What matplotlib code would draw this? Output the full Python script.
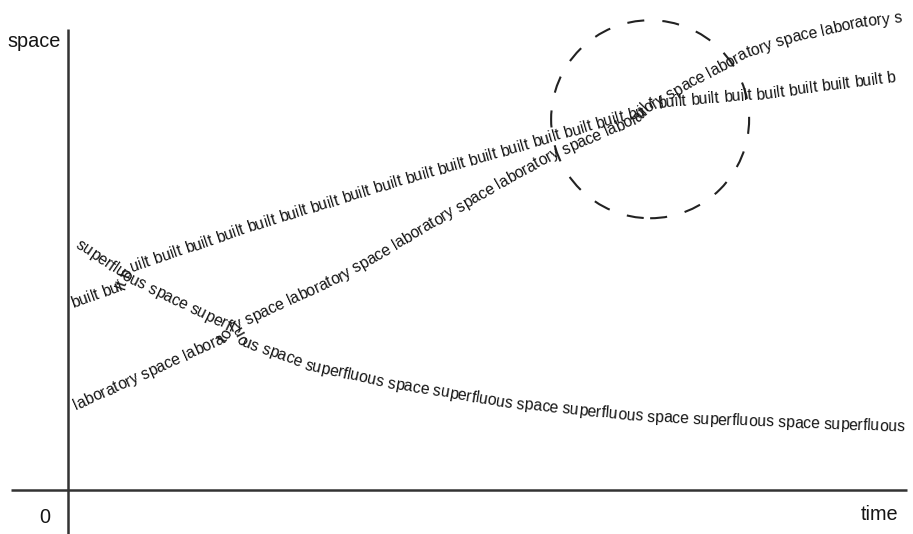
import numpy as np
import matplotlib
matplotlib.use('Agg')
import matplotlib.pyplot as plt
from matplotlib import font_manager
from matplotlib.ft2font import FT2Font
from matplotlib.patches import Ellipse

# data: time (0-100) vs space (0-100)
built_t = [0.6, 6.8, 7.5, 23.2, 38.7, 52.3, 65.7, 68.3, 69.3, 82.7, 98.3]
built_s = [39.6, 43.7, 47.4, 57.0, 65.7, 72.8, 80.0, 81.1, 83.0, 85.0, 88.7]

lab_t = [1.0, 18.9, 19.5, 33.0, 45.1, 52.6, 58.2, 68.1, 69.3, 73.7, 80.8, 86.0, 94.6, 98.9]
lab_s = [17.4, 32.2, 34.3, 45.7, 58.7, 66.7, 72.2, 80.0, 82.2, 87.0, 93.9, 97.2, 100.7, 101.6]

sup_t = [0.8, 6.8, 19.6, 20.4, 28.5, 37.5, 52.6, 69.3, 100.3]
sup_s = [52.8, 45.4, 34.1, 31.5, 26.1, 22.4, 17.8, 14.8, 12.6]

words = ['built ', 'laboratory space ', 'superfluous space ']

circle_center = (69.3, 80.6)
circle_radius_px = 99

ink = '#151515'
fsize = 11.3

fig = plt.figure(figsize=(9.13, 5.34), dpi=100)
ax = fig.add_axes([0, 0, 1, 1])
ax.set_xlim(-68 / 8.4, (913 - 68) / 8.4)
ax.set_ylim((490 - 534) / 4.6, 490 / 4.6)
ax.axis('off')

# axes lines
ax.plot([-6.8, 99.9], [0, 0], color='#333333', lw=1.8, solid_capstyle='butt')
ax.plot([0, 0], [100.2, -9.6], color='#333333', lw=1.8, solid_capstyle='butt')
ax.text(-0.8, 96.3, 'space', ha='right', va='baseline', fontsize=14.3,
        family='Liberation Sans', color=ink)
ax.text(-2.8, -7.2, '0', ha='center', va='baseline', fontsize=14.3,
        family='Liberation Sans', color=ink)
ax.text(98.9, -6.5, 'time', ha='right', va='baseline', fontsize=14.3,
        family='Liberation Sans', color=ink)

# glyph advances for text along a path
fp = font_manager.FontProperties(family='Liberation Sans')
font = FT2Font(font_manager.findfont(fp))
font.set_size(fsize, 72)
px_per_pt = fig.dpi / 72.0


def advance(c):
    g = font.load_char(ord(c))
    return g.linearHoriAdvance / 65536.0 * px_per_pt


def text_on_path(ts, ss, phrase):
    pts = ax.transData.transform(np.column_stack([ts, ss]))
    seg = np.diff(pts, axis=0)
    seglen = np.hypot(seg[:, 0], seg[:, 1])
    cum = np.concatenate([[0], np.cumsum(seglen)])
    total = cum[-1]
    inv = ax.transData.inverted()
    d = 0.0
    i = 0
    while True:
        c = phrase[i % len(phrase)]
        w = advance(c)
        mid = d + w / 2
        if mid > total:
            break
        k = min(np.searchsorted(cum, mid, side='right') - 1, len(seglen) - 1)
        f = (mid - cum[k]) / seglen[k]
        p = pts[k] + f * seg[k]
        ang = np.degrees(np.arctan2(seg[k, 1], seg[k, 0]))
        if c != ' ':
            x, y = inv.transform(p)
            ax.text(x, y, c, rotation=ang, rotation_mode='anchor',
                    ha='center', va='baseline', fontsize=fsize,
                    family='Liberation Sans', color=ink)
        d += w
        i += 1


text_on_path(built_t, built_s, words[0])
text_on_path(lab_t, lab_s, words[1])
text_on_path(sup_t, sup_s, words[2])

# dashed circle (round on screen)
ax.add_patch(Ellipse(circle_center, 2 * circle_radius_px / 8.4, 2 * circle_radius_px / 4.6,
                     fill=False, edgecolor='#222222', lw=1.5,
                     linestyle=(0, (8.2, 8.7))))

fig.savefig('out.png', dpi=100)
